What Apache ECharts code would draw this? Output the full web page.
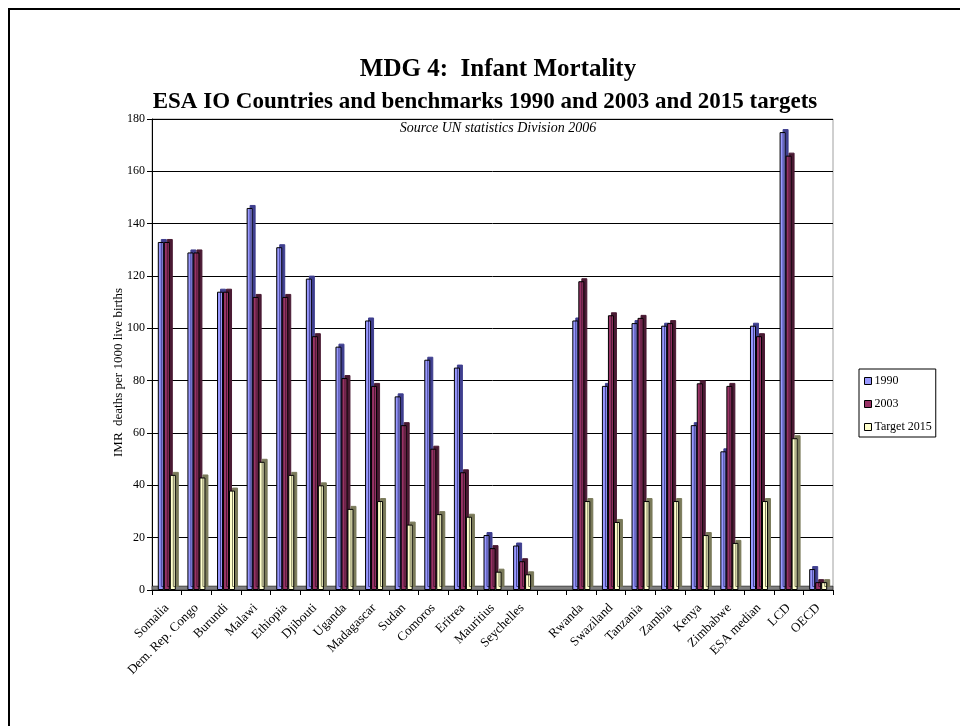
<!DOCTYPE html>
<html>
<head>
<meta charset="utf-8">
<script src="https://cdn.jsdelivr.net/npm/echarts@6/dist/echarts.min.js"></script>
<style>
  html, body { margin: 0; padding: 0; background: #fff; }
  #chart { width: 960px; height: 726px; }
</style>
</head>
<body>
<div id="chart"></div>
<script>
// countries (empty string = gap between the two groups)
const categories = [
  "Somalia", "Dem. Rep. Congo", "Burundi", "Malawi", "Ethiopia", "Djibouti",
  "Uganda", "Madagascar", "Sudan", "Comoros", "Eritrea", "Mauritius",
  "Seychelles", "", "Rwanda", "Swaziland", "Tanzania", "Zambia", "Kenya",
  "Zimbabwe", "ESA median", "LCD", "OECD"
];
const imr1990 = [133, 129, 114, 146, 131, 119, 93, 103, 74, 88, 85, 21, 17, null, 103, 78, 102, 101, 63, 53, 101, 175, 8];
const imr2003 = [133, 129, 114, 112, 112, 97, 81, 78, 63, 54, 45, 16, 11, null, 118, 105, 104, 102, 79, 78, 97, 166, 3];
const target2015 = [44, 43, 38, 49, 44, 40, 31, 34, 25, 29, 28, 7, 6, null, 34, 26, 34, 34, 21, 18, 34, 58, 3];
const yTicks = { min: 0, max: 180, step: 20 };

const font = "Liberation Serif";

let chart = echarts.init(document.getElementById("chart"));

// bar with a fake 3d side (shadow shifted up-right, no blur)
function bar3d(name, data, face, side) {
  return {
    name: name,
    type: "bar",
    data: data,
    barWidth: 6,
    barGap: "0%",
    itemStyle: {
      color: face,
      borderColor: "#000",
      borderWidth: 1,
      shadowColor: side,
      shadowBlur: 0,
      shadowOffsetX: 3,
      shadowOffsetY: -3,
    },
  };
}

let series = [
  bar3d("1990", imr1990, "#9999ff", "#3f3f8f"),
  bar3d("2003", imr2003, "#993366", "#4a1a33"),
  bar3d("Target 2015", target2015, "#ffffcc", "#7a7a5a"),
];
// grey floor
series[0].markArea = {
  silent: true,
  itemStyle: { color: "#808080", borderColor: "#000", borderWidth: 0.5 },
  data: [[{ yAxis: 0 }, { yAxis: 1.5 }]],
};

let option = {
  animation: false,
  backgroundColor: "#fff",
  textStyle: { fontFamily: font, color: "#000" },
  graphic: [
    {
      type: "rect",
      shape: { x: 9, y: 9, width: 1000, height: 1000 },
      style: { fill: "none", stroke: "#000", lineWidth: 2 },
    },
  ],
  title: [
    {
      text: "MDG 4:  Infant Mortality",
      left: 493,
      top: 52,
      textAlign: "center",
      textStyle: { fontFamily: font, fontSize: 25, fontWeight: "bold", color: "#000" },
    },
    {
      text: "ESA IO Countries and benchmarks 1990 and 2003 and 2015 targets",
      left: 480,
      top: 86,
      textAlign: "center",
      textStyle: { fontFamily: font, fontSize: 23, fontWeight: "bold", color: "#000" },
    },
    {
      text: "Source UN statistics Division 2006",
      left: 493,
      top: 116,
      textAlign: "center",
      textStyle: { fontFamily: font, fontSize: 14, fontStyle: "italic", fontWeight: "normal", color: "#000" },
    },
  ],
  legend: {
    orient: "vertical",
    left: 859,
    top: 369,
    padding: [6, 4, 4, 5],
    itemGap: 11,
    itemWidth: 7,
    itemHeight: 7,
    borderColor: "#000",
    borderWidth: 1,
    icon: "rect",
    itemStyle: { borderColor: "#000", borderWidth: 1, shadowColor: "transparent" },
    textStyle: { fontFamily: font, fontSize: 12, color: "#000", padding: [0, 0, 0, -2] },
  },
  grid: {
    left: 152,
    right: 127,
    top: 119,
    bottom: 136,
    show: true,
    borderColor: "#a0a0a0",
    borderWidth: 1,
  },
  xAxis: {
    type: "category",
    data: categories,
    axisLine: { lineStyle: { color: "#000", width: 1 } },
    axisTick: { show: true, interval: 0, length: 5, lineStyle: { color: "#000" } },
    axisLabel: {
      interval: 0,
      rotate: 45,
      margin: 16,
      fontFamily: font,
      fontSize: 13,
      color: "#000",
    },
  },
  yAxis: {
    type: "value",
    min: yTicks.min,
    max: yTicks.max,
    interval: yTicks.step,
    name: "IMR  deaths per 1000 live births",
    nameLocation: "middle",
    nameGap: 27,
    nameMoveOverlap: false,
    nameTextStyle: { fontFamily: font, fontSize: 13, color: "#000", padding: [0, 36, 0, 0] },
    axisLine: { show: true, lineStyle: { color: "#000" } },
    axisTick: { show: true, length: 5, lineStyle: { color: "#000" } },
    axisLabel: { fontFamily: font, fontSize: 12, color: "#000", margin: 7 },
    splitLine: { show: true, lineStyle: { color: "#000", width: 1 } },
  },
  series: series,
};

chart.setOption(option);
</script>
</body>
</html>
